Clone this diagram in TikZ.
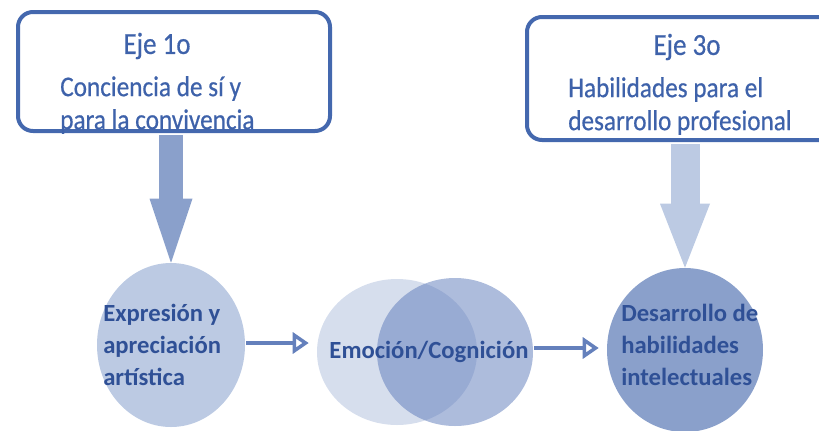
\documentclass[tikz,border=0pt]{standalone}
\usepackage{fontspec}
\setmainfont{Carlito}
\newfontfamily\axisfont[FakeStretch=0.88, FakeBold=0.5]{Carlito}
\usetikzlibrary{arrows.meta,positioning,shapes.geometric}
\def\px{0.75pt}
\definecolor{axisline}{RGB}{68,104,174}
\definecolor{axisink}{RGB}{62,98,170}
\definecolor{stageink}{RGB}{47,80,150}
\definecolor{feeddark}{RGB}{138,160,203}
\definecolor{feedlight}{RGB}{188,202,227}
\definecolor{stagelight}{RGB}{188,202,227}
\definecolor{stagedark}{RGB}{138,160,203}
\definecolor{vennpale}{RGB}{214,222,237}
\definecolor{vennblue}{RGB}{88,118,184}
\definecolor{flowline}{RGB}{100,128,188}
\tikzset{
  axisbox/.style={draw=axisline, line width=4*\px, rounded corners=15*\px, inner sep=0pt, fill=none},
  axistitle/.style={text=axisink, inner sep=0pt, font=\axisfont\fontsize{23}{26}\selectfont},
  axisbody/.style={text=axisink, inner sep=0pt, align=left, font=\axisfont\fontsize{21.5}{24.75}\selectfont},
  stage/.style={ellipse, inner sep=0pt, draw=none},
  stagetext/.style={text=stageink, inner sep=0pt, align=left, font=\bfseries\fontsize{18.5}{24}\selectfont},
  feed/.style 2 args={line width=#1*\px, shorten <=2*\px, -{Triangle[width=#2*\px, length=64*\px, line width=0pt]}},
  flow/.style={draw=flowline, line width=3.5*\px, shorten <=1*\px, shorten >=8*\px, -{Triangle[open, width=21*\px, length=16*\px, line width=3.5*\px]}}
}

\begin{document}
\begin{tikzpicture}[x=\px, y=-\px]
  \useasboundingbox (0,0) rectangle (819,430);
  \clip (0,0) rectangle (819,430);

  % the two axes
  \node[axisbox, minimum width=312*\px, minimum height=119*\px] (b1) at (174,71.5) {};
  \node[axistitle] (t1) at (157,46) {Eje 1o};
  \node[axisbody, anchor=west] (d1) at (60,105) {Conciencia de sí y\\para la convivencia};

  \node[axisbox, minimum width=333*\px, minimum height=123*\px] (b3) at (693.5,78.5) {};
  \node[axistitle] (t3) at (687,47) {Eje 3o};
  \node[axisbody, anchor=west] (d3) at (568,106) {Habilidades para el\\desarrollo profesional};

  % stages
  \node[stage, fill=stagelight, minimum width=148*\px, minimum height=164*\px] (c1) at (171,345) {};
  \node[stage, fill=vennpale, minimum width=160*\px, minimum height=146*\px] (vl) at (397,352) {};
  \node[stage, fill=vennblue, fill opacity=0.49, minimum width=156*\px, minimum height=148*\px] (vr) at (455,352) {};
  \node[stage, fill=stagedark, minimum width=156*\px, minimum height=164*\px] (c3) at (685,350) {};

  \node[stagetext, anchor=west] (s1) at (103,345) {Expresión y\\apreciación\\artística};
  \node[stagetext] (s2) at (429,352) {Emoción/Cognición};
  \node[stagetext, anchor=west] (s3) at (621,345) {Desarrollo de\\habilidades\\intelectuales};

  % connectors
  \draw[feed={24}{43}, draw=feeddark] (c1.north |- b1.south) -- (c1.north);
  \draw[feed={29}{50}, draw=feedlight] (c3.north |- b3.south) -- (c3.north);
  \draw[flow] ([yshift=2*\px]c1.east) -- ([yshift=2*\px]c1.east -| vl.west);
  \draw[flow] ([yshift=4*\px]vr.east) -- ([yshift=4*\px]vr.east -| c3.west);
\end{tikzpicture}
\end{document}
